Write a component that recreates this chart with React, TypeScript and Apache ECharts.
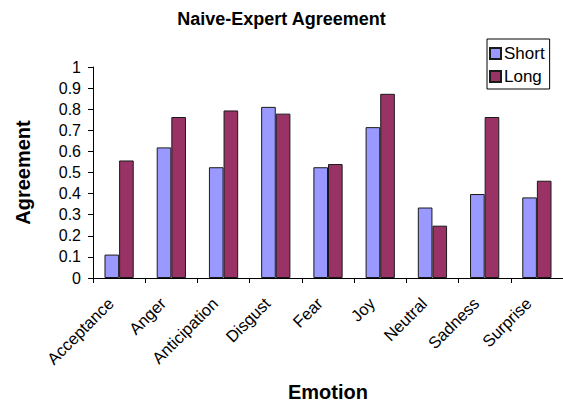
import React, { useEffect, useRef } from "react";
import * as echarts from "echarts";

const categories = ["Acceptance", "Anger", "Anticipation", "Disgust", "Fear", "Joy", "Neutral", "Sadness", "Surprise"];
const shortValues = [0.111, 0.619, 0.525, 0.811, 0.525, 0.715, 0.334, 0.398, 0.382];
const longValues = [0.557, 0.763, 0.794, 0.779, 0.540, 0.873, 0.248, 0.763, 0.461];
const seriesNames = ["Short", "Long"];
const titleText = "Naive-Expert Agreement";
const xName = "Emotion";
const yName = "Agreement";

const FONT = "Liberation Sans, Arial, sans-serif";

export default function App() {
  const ref = useRef<HTMLDivElement>(null);
  useEffect(() => {
    if (!ref.current) return;
    const chart = echarts.init(ref.current, undefined, { renderer: "svg" });
    chart.setOption({
      animation: false,
      backgroundColor: "#ffffff",
      textStyle: { fontFamily: FONT, color: "#000" },
      title: {
        text: titleText,
        left: "center",
        top: 5,
        textStyle: { fontFamily: FONT, fontSize: 18, fontWeight: "bold", color: "#000" },
      },
      legend: {
        orient: "vertical",
        left: 487,
        top: 39,
        padding: [6, 5, 4, 2],
        borderColor: "#000",
        borderWidth: 1,
        itemWidth: 11,
        itemHeight: 11,
        itemGap: 6,
        icon: "rect",
        textStyle: { fontFamily: FONT, fontSize: 17, color: "#000", padding: [0, 0, 0, -2] },
        data: seriesNames,
      },
      grid: { left: 93, top: 67, right: -3, bottom: 124, containLabel: false },
      xAxis: {
        type: "category",
        data: categories,
        name: xName,
        nameLocation: "middle",
        nameGap: 104,
        nameTextStyle: { fontFamily: FONT, fontSize: 20, fontWeight: "bold", color: "#000" },
        axisLine: { lineStyle: { color: "#000", width: 1 } },
        axisTick: { show: true, length: 5, lineStyle: { color: "#000" } },
        axisLabel: { interval: 0, rotate: 45, fontSize: 16.5, color: "#000", margin: 14, fontFamily: FONT, padding: [0, 12, 0, 0] },
        splitLine: { show: false },
      },
      yAxis: {
        type: "value",
        min: 0,
        max: 1,
        interval: 0.1,
        name: yName,
        nameLocation: "middle",
        nameGap: 60,
        nameRotate: 90,
        nameTextStyle: { fontFamily: FONT, fontSize: 20, fontWeight: "bold", color: "#000" },
        axisLine: { show: true, lineStyle: { color: "#000", width: 1 } },
        axisTick: { show: true, length: 5, lineStyle: { color: "#000" } },
        axisLabel: { fontSize: 16, color: "#000", margin: 12, fontFamily: FONT },
        splitLine: { show: false },
      },
      series: [
        {
          name: seriesNames[0],
          type: "bar",
          data: shortValues,
          barGap: "0%",
          barCategoryGap: "44%",
          itemStyle: { color: "#9999FF", borderColor: "#1a1a1a", borderWidth: 1 },
        },
        {
          name: seriesNames[1],
          type: "bar",
          data: longValues,
          barGap: "0%",
          barCategoryGap: "44%",
          itemStyle: { color: "#993366", borderColor: "#1a1a1a", borderWidth: 1 },
        },
      ],
    });
    return () => chart.dispose();
  }, []);
  return <div ref={ref} style={{ width: 563, height: 407, position: "absolute", left: 0, top: 0 }} />;
}
